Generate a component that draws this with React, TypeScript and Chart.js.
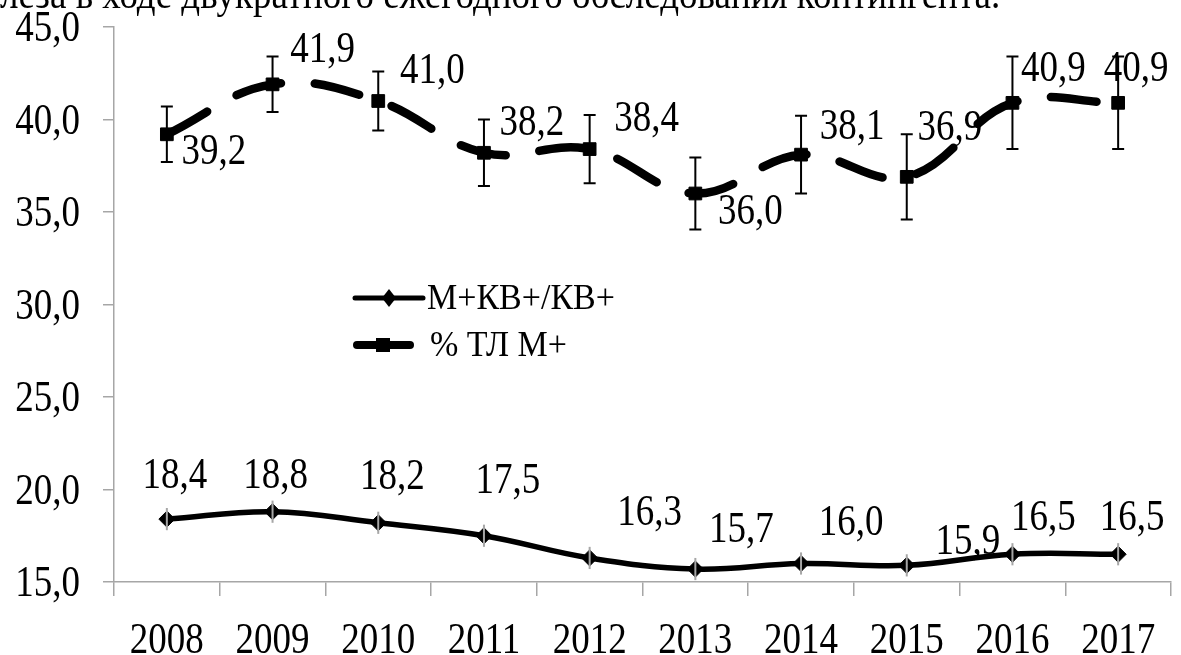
import React, { useEffect, useRef } from "react";
import { Chart, registerables } from "chart.js";

Chart.register(...registerables);

const years = ["2008", "2009", "2010", "2011", "2012", "2013", "2014", "2015", "2016", "2017"];
const mkvValues = [18.4, 18.8, 18.2, 17.5, 16.3, 15.7, 16.0, 15.9, 16.5, 16.5];
const mkvErrors = [0.6, 0.6, 0.6, 0.6, 0.6, 0.6, 0.6, 0.6, 0.6, 0.6];
const tlValues = [39.2, 41.9, 41.0, 38.2, 38.4, 36.0, 38.1, 36.9, 40.9, 40.9];
const tlErrors = [1.5, 1.5, 1.6, 1.8, 1.85, 1.95, 2.1, 2.3, 2.5, 2.5];
const seriesNames = ["М+КВ+/КВ+", "% ТЛ М+"];
const yTicks = [15, 20, 25, 30, 35, 40, 45];
const headerText = "леза в ходе двукратного ежегодного обследования контингента.";

// label placement (dx to label centre, dy to baseline) relative to each point
const mkvLabelOffsets: [number, number][] = [
  [8, -31], [3, -24], [14, -34], [24, -43], [60, -33],
  [46, -27], [50, -29], [61, -11], [31, -24], [14, -24],
];
const tlLabelOffsets: [number, number][] = [
  [47, 30], [50, -22], [54, -18], [48, -18], [57, -18],
  [55, 30], [51, -16], [43, -37], [41, -22], [18, -22],
];

const FONT = "'Liberation Serif', 'Times New Roman', serif";
const SY = 1.2; // vertical stretch of the glyphs
const fmt = (v: number) => v.toFixed(1).replace(".", ",");

function drawText(ctx: any, text: string, x: number, y: number, align: string, size: number, sy: number) {
  ctx.save();
  ctx.translate(x, y);
  ctx.scale(1, sy);
  ctx.font = `${size}px ${FONT}`;
  ctx.textAlign = align;
  ctx.textBaseline = "alphabetic";
  ctx.fillStyle = "#000";
  ctx.fillText(text, 0, 0);
  ctx.restore();
}

const errorBarPlugin = {
  id: "errorBars",
  afterDatasetsDraw(chart: any) {
    const ctx = chart.ctx;
    const y = chart.scales.y;
    const sets = [
      { idx: 0, err: mkvErrors, color: "#a6a6a6", cap: 0 },
      { idx: 1, err: tlErrors, color: "#000000", cap: 6 },
    ];
    ctx.save();
    sets.forEach((s) => {
      const meta = chart.getDatasetMeta(s.idx);
      const vals = chart.data.datasets[s.idx].data as number[];
      meta.data.forEach((pt: any, i: number) => {
        const top = y.getPixelForValue(vals[i] + s.err[i]);
        const bot = y.getPixelForValue(vals[i] - s.err[i]);
        ctx.strokeStyle = s.color;
        ctx.lineWidth = 2;
        ctx.beginPath();
        ctx.moveTo(pt.x, top);
        ctx.lineTo(pt.x, bot);
        if (s.cap) {
          ctx.moveTo(pt.x - s.cap, top);
          ctx.lineTo(pt.x + s.cap, top);
          ctx.moveTo(pt.x - s.cap, bot);
          ctx.lineTo(pt.x + s.cap, bot);
        }
        ctx.stroke();
      });
    });
    ctx.restore();
  },
};

const textPlugin = {
  id: "texts",
  afterDraw(chart: any) {
    const ctx = chart.ctx;
    const ys = chart.scales.y;
    ys.ticks.forEach((t: any) => {
      const py = ys.getPixelForValue(t.value);
      drawText(ctx, fmt(t.value), 80, py + 14, "right", 37, SY);
    });
    const xs = chart.scales.x;
    years.forEach((lab, i) => {
      drawText(ctx, lab, xs.getPixelForValue(i), 653, "center", 37, SY);
    });
    const offs = [mkvLabelOffsets, tlLabelOffsets];
    [0, 1].forEach((d) => {
      const meta = chart.getDatasetMeta(d);
      const vals = chart.data.datasets[d].data as number[];
      meta.data.forEach((pt: any, i: number) => {
        const [dx, dy] = offs[d][i];
        drawText(ctx, fmt(vals[i]), pt.x + dx, pt.y + dy, "center", 37, SY);
      });
    });
  },
};

const legendPlugin = {
  id: "customLegend",
  afterDraw(chart: any) {
    const ctx = chart.ctx;
    ctx.save();
    let y = 298;
    ctx.strokeStyle = "#000";
    ctx.fillStyle = "#000";
    ctx.lineCap = "round";
    ctx.lineWidth = 5;
    ctx.beginPath();
    ctx.moveTo(355, y);
    ctx.lineTo(423, y);
    ctx.stroke();
    ctx.beginPath();
    ctx.moveTo(389 - 7, y);
    ctx.lineTo(389, y - 9);
    ctx.lineTo(389 + 7, y);
    ctx.lineTo(389, y + 9);
    ctx.closePath();
    ctx.fill();
    drawText(ctx, seriesNames[0], 427, y + 11, "left", 34, 1.05);
    y = 345;
    ctx.lineWidth = 8;
    ctx.beginPath();
    ctx.moveTo(357, y);
    ctx.lineTo(410, y);
    ctx.stroke();
    ctx.fillRect(383 - 7, y - 7, 14, 14);
    drawText(ctx, seriesNames[1], 430, y + 11, "left", 34, 1.05);
    ctx.restore();
  },
};

export default function App() {
  const ref = useRef<HTMLCanvasElement | null>(null);
  useEffect(() => {
    if (!ref.current) return;
    const chart = new Chart(ref.current, {
      type: "line",
      data: {
        labels: years,
        datasets: [
          {
            label: seriesNames[0],
            data: mkvValues,
            borderColor: "#000",
            backgroundColor: "#000",
            borderWidth: 5.5,
            tension: 0.4,
            pointStyle: "rectRot",
            pointRadius: 8,
            pointBorderWidth: 1,
            pointBackgroundColor: "#000",
            pointBorderColor: "#000",
          },
          {
            label: seriesNames[1],
            data: tlValues,
            borderColor: "#000",
            backgroundColor: "#000",
            borderWidth: 8.5,
            borderDash: [46, 34],
            borderCapStyle: "round",
            tension: 0.4,
            pointStyle: "rect",
            pointRadius: 9,
            pointBorderWidth: 1,
            pointBackgroundColor: "#000",
            pointBorderColor: "#000",
          },
        ],
      },
      options: {
        responsive: false,
        animation: false,
        layout: { padding: { left: 0, right: 0, top: 27, bottom: 0 } },
        plugins: {
          legend: { display: false },
          tooltip: { enabled: false },
          title: { display: false },
        },
        scales: {
          x: {
            type: "category",
            offset: true,
            afterFit: (s: any) => {
              s.height = 73;
            },
            grid: {
              offset: true,
              drawOnChartArea: false,
              drawTicks: true,
              tickLength: 14,
              color: "#a6a6a6",
              lineWidth: 1.5,
            },
            border: { color: "#a6a6a6", width: 1.5 },
            ticks: { display: false, autoSkip: false },
          },
          y: {
            min: 15,
            max: 45,
            afterFit: (s: any) => {
              s.width = 114;
            },
            afterBuildTicks: (s: any) => {
              s.ticks = yTicks.map((v) => ({ value: v }));
            },
            grid: {
              drawOnChartArea: false,
              drawTicks: true,
              tickLength: 11,
              color: "#a6a6a6",
              lineWidth: 1.5,
            },
            border: { color: "#a6a6a6", width: 1.5 },
            ticks: { display: false },
          },
        },
      },
      plugins: [errorBarPlugin, textPlugin, legendPlugin],
    });
    return () => chart.destroy();
  }, []);

  return (
    <div style={{ position: "absolute", left: 0, top: 0, width: 1181, height: 655, overflow: "hidden", background: "#fff" }}>
      <canvas ref={ref} width={1181} height={655} style={{ position: "absolute", left: 0, top: 0 }} />
      <div
        style={{
          position: "absolute",
          left: 0,
          top: -28,
          fontFamily: FONT,
          fontSize: 37,
          lineHeight: "37px",
          whiteSpace: "nowrap",
          color: "#000",
          transform: "scaleY(1.15)",
          transformOrigin: "0 0",
        }}
      >
        {headerText}
      </div>
    </div>
  );
}
